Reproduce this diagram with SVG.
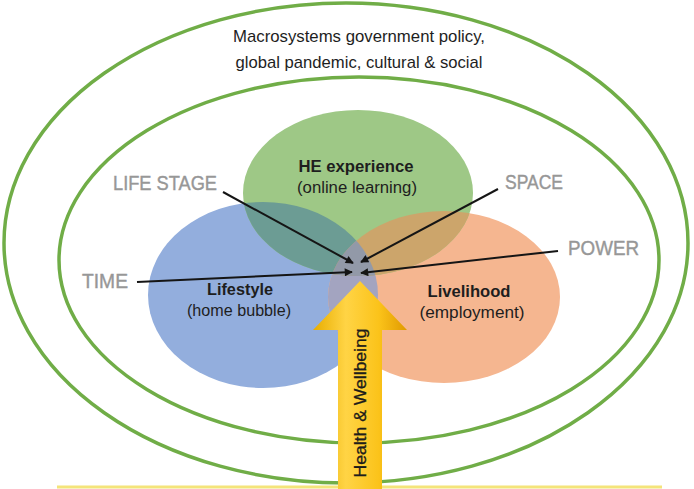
<svg xmlns="http://www.w3.org/2000/svg" width="694" height="489" viewBox="0 0 694 489">
<style>
.ring{fill:none;stroke:#70ad47;stroke-width:3.5}
.lbl{font-family:"Liberation Sans",Arial,sans-serif;fill:#1e1e1e;text-anchor:middle}
.b{font-weight:bold}
.gray{font-family:"Liberation Sans",Arial,sans-serif;fill:#979797;font-size:20px;stroke:#979797;stroke-width:0.4}
.conn{stroke:#151515;stroke-width:2;fill:none;marker-end:url(#ah)}
</style>
<defs>
<marker id="ah" viewBox="0 0 10 10" refX="9" refY="5" markerWidth="9" markerHeight="8" markerUnits="userSpaceOnUse" orient="auto">
<path d="M0,0 L10,5 L0,10 z" fill="#151515"/>
</marker>
<clipPath id="cb"><ellipse cx="263" cy="295" rx="115" ry="93"/></clipPath>
<clipPath id="co"><ellipse cx="444" cy="297" rx="116" ry="86"/></clipPath>
<linearGradient id="yg" x1="0" y1="0" x2="1" y2="0">
<stop offset="0" stop-color="#e8ad00"/>
<stop offset="0.35" stop-color="#ffd445"/>
<stop offset="0.7" stop-color="#fbc31a"/>
<stop offset="1" stop-color="#e09a00"/>
</linearGradient>
</defs>
<rect width="694" height="489" fill="#ffffff"/>
<g id="macrosystem">
<ellipse class="ring" cx="346" cy="243" rx="342" ry="240"/>
<text class="lbl" x="359" y="42" font-size="17" textLength="252" lengthAdjust="spacingAndGlyphs">Macrosystems government policy,</text>
<text class="lbl" x="359" y="68" font-size="17" textLength="247" lengthAdjust="spacingAndGlyphs">global pandemic, cultural &amp; social</text>
</g>
<g id="inner-ring">
<ellipse class="ring" cx="359" cy="260" rx="300" ry="183"/>
</g>
<g id="lifestyle">
<ellipse cx="263" cy="295" rx="115" ry="93" fill="#93aedd"/>
</g>
<g id="livelihood">
<ellipse cx="444" cy="297" rx="116" ry="86" fill="#f5b690"/>
</g>
<g id="he-experience">
<ellipse cx="358" cy="193" rx="115" ry="83" fill="#9ec886"/>
</g>
<g id="overlaps">
<ellipse cx="444" cy="297" rx="116" ry="86" fill="#a3a4c0" clip-path="url(#cb)"/>
<ellipse cx="358" cy="193" rx="115" ry="83" fill="#6c9c94" clip-path="url(#cb)"/>
<ellipse cx="358" cy="193" rx="115" ry="83" fill="#cca56b" clip-path="url(#co)"/>
<g clip-path="url(#cb)"><ellipse cx="358" cy="193" rx="115" ry="83" fill="#9299a8" clip-path="url(#co)"/></g>
</g>
<g id="labels-circles">
<text class="lbl b" x="356" y="172" font-size="17" textLength="115" lengthAdjust="spacingAndGlyphs">HE experience</text>
<text class="lbl" x="357" y="193" font-size="16" textLength="120" lengthAdjust="spacingAndGlyphs">(online learning)</text>
<text class="lbl b" x="240" y="295" font-size="17" textLength="66" lengthAdjust="spacingAndGlyphs">Lifestyle</text>
<text class="lbl" x="239" y="316" font-size="16" textLength="104" lengthAdjust="spacingAndGlyphs">(home bubble)</text>
<text class="lbl b" x="469" y="297" font-size="17" textLength="83" lengthAdjust="spacingAndGlyphs">Livelihood</text>
<text class="lbl" x="472" y="318" font-size="16" textLength="105" lengthAdjust="spacingAndGlyphs">(employment)</text>
</g>
<g id="life-stage"><text class="gray" x="113" y="190" textLength="104" lengthAdjust="spacingAndGlyphs">LIFE STAGE</text></g>
<g id="space"><text class="gray" x="505" y="189" textLength="58" lengthAdjust="spacingAndGlyphs">SPACE</text></g>
<g id="time"><text class="gray" x="82" y="288" textLength="46" lengthAdjust="spacingAndGlyphs">TIME</text></g>
<g id="power"><text class="gray" x="568" y="255" textLength="71" lengthAdjust="spacingAndGlyphs">POWER</text></g>
<g id="connectors">
<line class="conn" x1="223" y1="192" x2="353" y2="263"/>
<line class="conn" x1="498" y1="189" x2="361" y2="262"/>
<line class="conn" x1="137" y1="282" x2="352" y2="272"/>
<line class="conn" x1="558" y1="251" x2="361" y2="273"/>
</g>
<g id="baseline">
<line x1="57" y1="487" x2="662" y2="487" stroke="#f4e47a" stroke-width="3"/>
</g>
<g id="health-wellbeing">
<path d="M338,489 L338,330 L313,330 L360,281 L407,330 L382,330 L382,489 Z" fill="url(#yg)"/>
<text class="lbl" transform="translate(366,403) rotate(-90)" font-size="17" fill="#111" stroke="#111" stroke-width="0.3" textLength="149" lengthAdjust="spacingAndGlyphs">Health &amp; Wellbeing</text>
</g>
</svg>
